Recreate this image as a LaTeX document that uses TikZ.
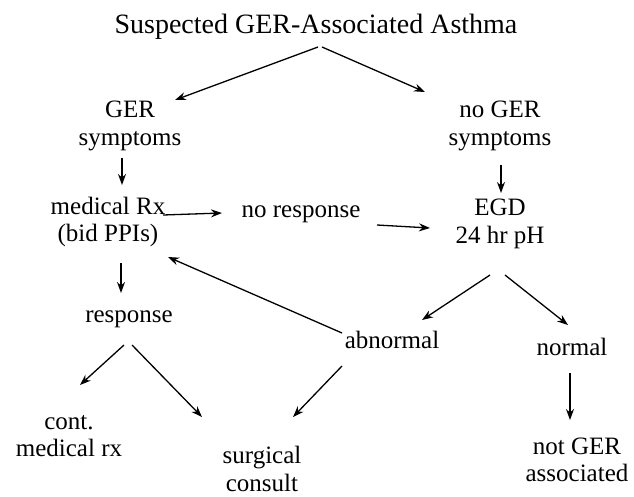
\documentclass[tikz,border=0pt]{standalone}
\usepackage{fontspec}
\setmainfont{Liberation Serif}
\usetikzlibrary{arrows.meta,calc}
\begin{document}
\begin{tikzpicture}[x=1pt,y=-1pt,
  lbl/.style={font=\fontsize{25}{27.5}\selectfont, align=center, inner sep=0pt},
  ttl/.style={font=\fontsize{28}{30}\selectfont, inner sep=0pt},
  arr/.style={-{Stealth[length=11pt,width=8pt]}, line width=1.3pt}]
\useasboundingbox (0,0) rectangle (634,496);
\node[ttl, anchor=base] (title) at (316,33) {Suspected GER-Associated Asthma};
\node[lbl] (gersym) at (130,126) {GER\\symptoms};
\node[lbl] (nogersym) at (500,126) {no GER\\symptoms};
\node[lbl] (medrx) at (108,222) {medical Rx\\(bid PPIs)};
\node[lbl, anchor=base] (noresp) at (301,217) {no response};
\node[lbl] (egd) at (500,224) {EGD\\24 hr pH};
\node[lbl, anchor=base] (response) at (129,322) {response};
\node[lbl, anchor=base] (abnormal) at (392,348) {abnormal};
\node[lbl, anchor=base] (normal) at (572,355) {normal};
\node[lbl] (cont) at (69,436) {cont.\\medical rx};
\node[lbl] (surgical) at (262,469) {surgical\\consult};
\node[lbl] (notger) at (577,460) {not GER\\associated};

\draw[arr] ($(title.base)+(2,14)$) -- ($(gersym)+(45,-26)$);
\draw[arr] ($(title.base)+(6,14)$) -- ($(nogersym)+(-75,-34)$);
\draw[arr] ($(gersym)+(-8,32)$) -- ($(medrx)+(14,-37)$);
\draw[arr] ($(nogersym)+(1,39)$) -- ($(egd)+(1,-31)$);
\draw[arr] ($(medrx)+(55,-7)$) -- ($(noresp.base)+(-79,-4)$);
\draw[arr] ($(noresp.base)+(76,8)$) -- ($(egd)+(-70,4)$);
\draw[arr] ($(medrx)+(13,41)$) -- ($(response.base)+(-8,-29)$);
\draw[arr] ($(abnormal.base)+(-50,-15)$) -- ($(medrx)+(60,35)$);
\draw[arr] ($(egd)+(-10,51)$) -- ($(abnormal.base)+(30,-28)$);
\draw[arr] ($(egd)+(5,51)$) -- ($(normal.base)+(-4,-30)$);
\draw[arr] ($(response.base)+(-5,23)$) -- ($(cont)+(11,-51)$);
\draw[arr] ($(response.base)+(3,23)$) -- ($(surgical)+(-60,-52)$);
\draw[arr] ($(abnormal.base)+(-50,18)$) -- ($(surgical)+(31,-52)$);
\draw[arr] ($(normal.base)+(-2,18)$) -- ($(notger)+(-7,-40)$);
\end{tikzpicture}
\end{document}
